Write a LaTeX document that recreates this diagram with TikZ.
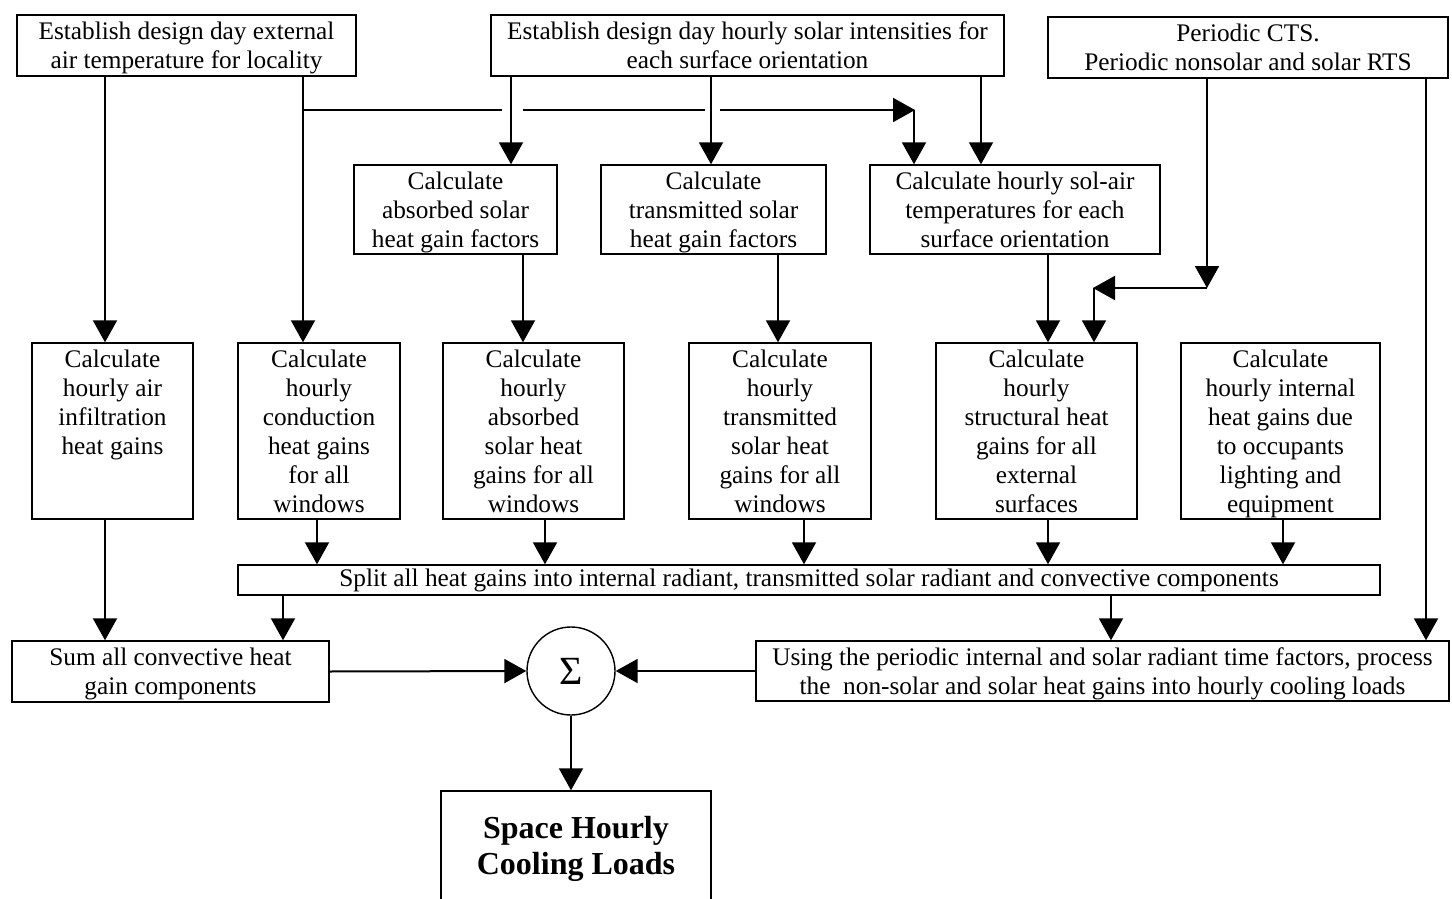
\documentclass[tikz,border=0pt]{standalone}
\usepackage{fontspec}
\setmainfont{Liberation Serif}
\usetikzlibrary{arrows.meta}
% struts for the first and last lines of a box
\newcommand{\ts}{\rule{0pt}{23.3pt}}
\newcommand{\bs}{\rule[-5.7pt]{0pt}{5.7pt}}
\tikzset{
  box/.style={draw, line width=1.4pt, rectangle, inner sep=0pt, align=center,
    font=\fontsize{25.3}{29}\selectfont},
  arr/.style={line width=2pt, -{Triangle[width=24pt,length=22pt]}},
  ln/.style={line width=2pt},
}
\begin{document}
\begin{tikzpicture}[x=1pt,y=-1pt]
\useasboundingbox (0,0) rectangle (1452,899);
\clip (0,0) rectangle (1452,899);

% top inputs
\node[box, minimum width=339, minimum height=61] (A) at (186.5,45.5)
  {\ts Establish design day external\\air temperature for locality\bs};
\node[box, minimum width=513, minimum height=61] (B) at (747.5,45.5)
  {\ts Establish design day hourly solar intensities for\\each surface orientation\bs};
\node[box, minimum width=400, minimum height=61] (C) at (1248,47.5)
  {\ts Periodic CTS.\\Periodic nonsolar and solar RTS\bs};

% factor boxes
\node[box, minimum width=203, minimum height=89] (F1) at (455.5,209.5)
  {\ts Calculate\\absorbed solar\\heat gain factors\bs};
\node[box, minimum width=225, minimum height=89] (F2) at (713.5,209.5)
  {\ts Calculate\\transmitted solar\\heat gain factors\bs};
\node[box, minimum width=290, minimum height=89] (F3) at (1015,209.5)
  {\ts Calculate hourly sol-air\\temperatures for each\\surface orientation\bs};

% hourly gain boxes
\node[box, minimum width=161, minimum height=176] (G1) at (112.5,431)
  {\ts Calculate\\hourly air\\infiltration\\heat gains\\\strut\\\bs};
\node[box, minimum width=162, minimum height=176] (G2) at (319,431)
  {\ts Calculate\\hourly\\conduction\\heat gains\\for all\\windows\bs};
\node[box, minimum width=181, minimum height=176] (G3) at (533.5,431)
  {\ts Calculate\\hourly\\absorbed\\solar heat\\gains for all\\windows\bs};
\node[box, minimum width=182, minimum height=176] (G4) at (780,431)
  {\ts Calculate\\hourly\\transmitted\\solar heat\\gains for all\\windows\bs};
\node[box, minimum width=201, minimum height=176] (G5) at (1036.5,431)
  {\ts Calculate\\hourly\\structural heat\\gains for all\\external\\surfaces\bs};
\node[box, minimum width=199, minimum height=176] (G6) at (1280.5,431)
  {\ts Calculate\\hourly internal\\heat gains due\\to occupants\\lighting and\\equipment\bs};

% split, summation and output
\node[box, minimum width=1142, minimum height=30, text height=19pt, text depth=6pt] (S) at (809,580)
  {Split all heat gains into internal radiant, transmitted solar radiant and convective components};
\node[box, minimum width=317, minimum height=61] (Sum) at (170.5,671.5)
  {\ts Sum all convective heat\\gain components\bs};
\node[box, minimum width=693, minimum height=60] (U) at (1102.5,671)
  {\ts Using the periodic internal and solar radiant time factors, process\\the\ \ non-solar and solar heat gains into hourly cooling loads\bs};
\node[draw, circle, line width=1.4pt, minimum size=88, inner sep=0pt,
  font=\fontsize{40}{40}\selectfont] (Sig) at (571,671) {Σ};
\node[box, minimum width=270, minimum height=116,
  font=\fontsize{32}{36}\selectfont\bfseries] (Out) at (576,849)
  {Space Hourly\\Cooling Loads};

% column positions
\coordinate (xa1) at (105,0);
\coordinate (xa2) at (303,0);
\coordinate (xb1) at (511,0);
\coordinate (xb2) at (711,0);
\coordinate (xb3) at (981,0);
\coordinate (xj) at (914,0);
\coordinate (xf1) at (523,0);
\coordinate (xf2) at (778,0);
\coordinate (xf3) at (1048,0);
\coordinate (xc1) at (1207,0);
\coordinate (xc2) at (1094,0);
\coordinate (xc3) at (1426,0);
\coordinate (xg2) at (317,0);
\coordinate (xg3) at (545,0);
\coordinate (xg4) at (804,0);
\coordinate (xg5) at (1048,0);
\coordinate (xg6) at (1283,0);
\coordinate (xs1) at (283,0);
\coordinate (xs2) at (1111,0);

% air temperature feeds
\coordinate (t0) at (303,110);
\coordinate (t1) at (502,110);
\coordinate (t2) at (523,110);
\coordinate (t3) at (705,110);
\coordinate (t4) at (720,110);
\coordinate (t5) at (915,110);
\draw[arr] (A.south -| xa1) -- (G1.north -| xa1);
\draw[arr] (A.south -| xa2) -- (G2.north -| xa2);
\draw[ln] (t0) -- (t1);
\draw[ln] (t2) -- (t3);
\draw[arr] (t4) -- (t5);
\draw[arr] (t5 -| xj) -- (F3.north -| xj);

% solar intensity feeds
\draw[arr] (B.south -| xb1) -- (F1.north -| xb1);
\draw[arr] (B.south -| xb2) -- (F2.north -| xb2);
\draw[arr] (B.south -| xb3) -- (F3.north -| xb3);

% factors to hourly gains
\draw[arr] (F1.south -| xf1) -- (G3.north -| xf1);
\draw[arr] (F2.south -| xf2) -- (G4.north -| xf2);
\draw[arr] (F3.south -| xf3) -- (G5.north -| xf3);

% time series feeds
\coordinate (k1) at (1207,288);
\coordinate (k2) at (1093,288);
\draw[arr] (C.south -| xc1) -- (k1);
\draw[arr] (k1) -- (k2);
\draw[arr] (k2 -| xc2) -- (G5.north -| xc2);
\draw[arr] (C.south -| xc3) -- (U.north -| xc3);

% gains to split
\draw[arr] (G2.south -| xg2) -- (S.north -| xg2);
\draw[arr] (G3.south -| xg3) -- (S.north -| xg3);
\draw[arr] (G4.south -| xg4) -- (S.north -| xg4);
\draw[arr] (G5.south -| xg5) -- (S.north -| xg5);
\draw[arr] (G6.south -| xg6) -- (S.north -| xg6);
\draw[arr] (G1.south -| xa1) -- (Sum.north -| xa1);

% split outputs
\draw[arr] (S.south -| xs1) -- (Sum.north -| xs1);
\draw[arr] (S.south -| xs2) -- (U.north -| xs2);

% summation
\draw[arr] (Sum.east) -- (Sig.west);
\draw[arr] (U.west) -- (Sig.east);
\draw[arr] (Sig.south) -- (Out.north -| Sig.south);
\end{tikzpicture}
\end{document}
